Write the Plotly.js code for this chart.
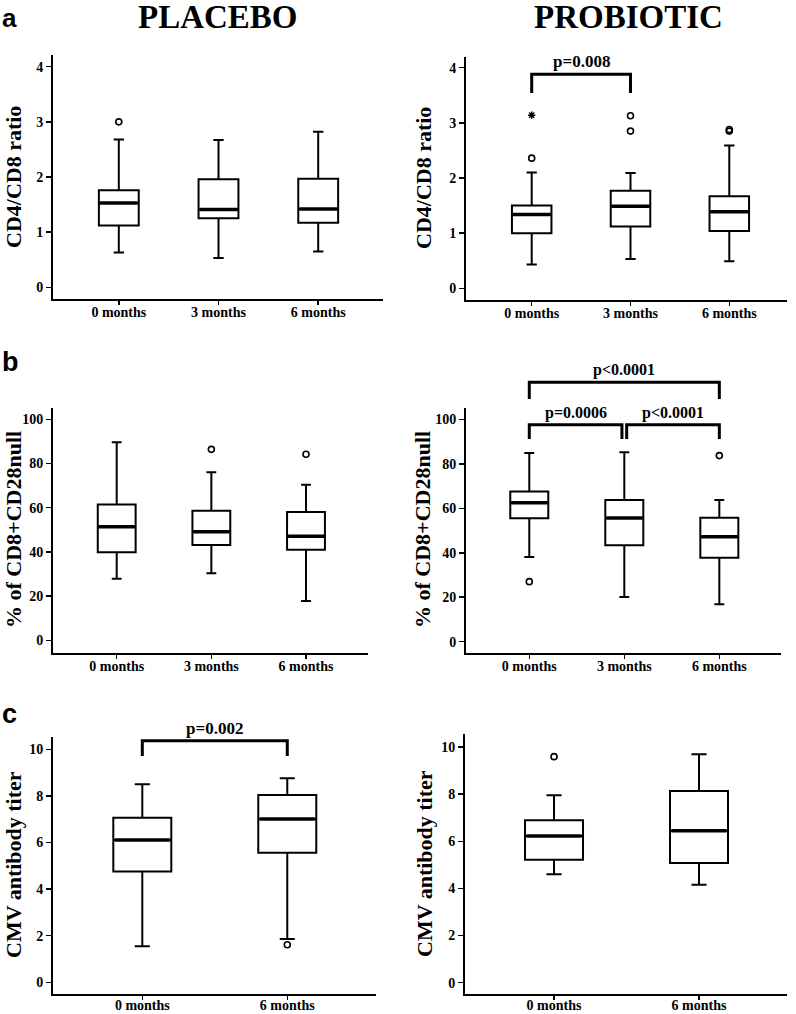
<!DOCTYPE html>
<html>
<head>
<meta charset="utf-8">
<script src="https://cdn.plot.ly/plotly-3.0.1.min.js"></script>
<style>html,body{margin:0;padding:0;background:#fff;}#chart{width:796px;height:1014px;}</style>
</head>
<body>
<div id="chart"></div>
<script>
// ---------- DATA ----------
const cats3 = ['0 months', '3 months', '6 months'];
const cats2 = ['0 months', '6 months'];
const groupTitles = ['PLACEBO', 'PROBIOTIC'];
const panelLetters = ['a', 'b', 'c'];
const yTitles = ['CD4/CD8 ratio', '% of CD8+CD28null', 'CMV antibody titer'];

// Panel a - placebo (CD4/CD8 ratio)
const aPlaLow  = [0.63, 0.53, 0.65];
const aPlaQ1   = [1.12, 1.25, 1.17];
const aPlaMed  = [1.53, 1.41, 1.42];
const aPlaQ3   = [1.76, 1.96, 1.97];
const aPlaHigh = [2.68, 2.67, 2.82];
const aPlaOutX = [0];
const aPlaOutY = [3.00];
// Panel a - probiotic
const aProLow  = [0.43, 0.53, 0.49];
const aProQ1   = [1.00, 1.12, 1.04];
const aProMed  = [1.34, 1.49, 1.39];
const aProQ3   = [1.50, 1.77, 1.67];
const aProHigh = [2.10, 2.09, 2.59];
const aProOutX = [0, 1, 1, 2, 2];
const aProOutY = [2.36, 3.13, 2.85, 2.88, 2.85];
const aProExtX = [0];
const aProExtY = [3.14];

// Panel b - placebo (% of CD8+CD28null)
const bPlaLow  = [27.9, 30.3, 17.8];
const bPlaQ1   = [39.8, 43.1, 41.0];
const bPlaMed  = [51.4, 49.1, 47.1];
const bPlaQ3   = [61.4, 58.6, 58.1];
const bPlaHigh = [89.6, 76.0, 70.4];
const bPlaOutX = [1, 2];
const bPlaOutY = [86.4, 84.2];
// Panel b - probiotic
const bProLow  = [38.1, 20.1, 16.8];
const bProQ1   = [55.5, 43.4, 37.8];
const bProMed  = [62.5, 55.6, 47.2];
const bProQ3   = [67.5, 63.7, 55.8];
const bProHigh = [84.9, 85.2, 63.7];
const bProOutX = [0, 2];
const bProOutY = [27.0, 83.7];

// Panel c - placebo (CMV antibody titer)
const cPlaLow  = [1.55, 1.86];
const cPlaQ1   = [4.76, 5.56];
const cPlaMed  = [6.11, 7.01];
const cPlaQ3   = [7.06, 8.04];
const cPlaHigh = [8.50, 8.76];
const cPlaOutX = [1];
const cPlaOutY = [1.61];
// Panel c - probiotic
const cProLow  = [4.60, 4.16];
const cProQ1   = [5.22, 5.08];
const cProMed  = [6.22, 6.45];
const cProQ3   = [6.89, 8.13];
const cProHigh = [7.95, 9.69];
const cProOutX = [0];
const cProOutY = [9.59];

// Significance brackets: [from, to, top, legEnd, label]
const aProBrackets = [[0, 1, 3.88, 3.54, 'p=0.008']];
const bProBrackets = [[0, 2, 116.7, 109.2, 'p<0.0001'], [0, 0.975, 97.6, 91.2, 'p=0.0006'], [1.025, 2, 97.6, 91.2, 'p<0.0001']];
const cPlaBrackets = [[0, 1, 10.37, 9.71, 'p=0.002']];

// ---------- LAYOUT SETUP ----------
const W = 796, H = 1014;
const SERIF = 'Liberation Serif, Times New Roman, serif';
const SANS = 'Liberation Sans, Arial, sans-serif';

// panel geometry (pixels) and axis ranges
const panels = [
  {id: 1, px: [53, 383], py: [55, 299], xr: [-0.66, 2.65], yr: [-0.212, 4.212], dt: 1, cats: cats3, so: -5,
   low: aPlaLow, q1: aPlaQ1, med: aPlaMed, q3: aPlaQ3, high: aPlaHigh, ox: aPlaOutX, oy: aPlaOutY, br: []},
  {id: 2, px: [466, 787], py: [57, 300], xr: [-0.665, 2.584], yr: [-0.212, 4.194], dt: 1, cats: cats3, so: -5,
   low: aProLow, q1: aProQ1, med: aProMed, q3: aProQ3, high: aProHigh, ox: aProOutX, oy: aProOutY,
   ex: aProExtX, ey: aProExtY, br: aProBrackets, brFont: 17},
  {id: 3, px: [53, 368], py: [408, 653], xr: [-0.673, 2.655], yr: [-5.75, 105.1], dt: 20, cats: cats3, so: -5,
   low: bPlaLow, q1: bPlaQ1, med: bPlaMed, q3: bPlaQ3, high: bPlaHigh, ox: bPlaOutX, oy: bPlaOutY, br: []},
  {id: 4, px: [466, 781], py: [408, 653], xr: [-0.666, 2.649], yr: [-5.08, 105.1], dt: 20, cats: cats3, so: -5,
   low: bProLow, q1: bProQ1, med: bProMed, q3: bProQ3, high: bProHigh, ox: bProOutX, oy: bProOutY,
   br: bProBrackets, brFont: 16},
  {id: 5, px: [53, 376], py: [737, 994], xr: [-0.616, 1.612], yr: [-0.502, 10.528], dt: 2, cats: cats2, so: -7,
   low: cPlaLow, q1: cPlaQ1, med: cPlaMed, q3: cPlaQ3, high: cPlaHigh, ox: cPlaOutX, oy: cPlaOutY,
   br: cPlaBrackets, brFont: 17},
  {id: 6, px: [465, 787], py: [734, 994], xr: [-0.614, 1.607], yr: [-0.48, 10.55], dt: 2, cats: cats2, so: -7,
   low: cProLow, q1: cProQ1, med: cProMed, q3: cProQ3, high: cProHigh, ox: cProOutX, oy: cProOutY, br: []}
];

const BOXW = 0.4;
const traces = [];
const layout = {
  width: W, height: H,
  margin: {l: 0, r: 0, t: 0, b: 0},
  paper_bgcolor: '#fff', plot_bgcolor: '#fff',
  showlegend: false,
  hovermode: false,
  font: {family: SERIF, color: '#000'},
  shapes: [],
  annotations: []
};

panels.forEach(p => {
  const xa = 'x' + p.id, ya = 'y' + p.id;
  const xKey = 'xaxis' + p.id, yKey = 'yaxis' + p.id;
  const pos = p.cats.map((c, i) => i);
  layout[xKey] = {
    domain: [p.px[0] / W, p.px[1] / W],
    range: p.xr, anchor: ya,
    showline: true, linecolor: '#000', linewidth: 2,
    showgrid: false, zeroline: false,
    tickmode: 'array', tickvals: pos, ticktext: p.cats,
    ticks: 'outside', ticklen: 4, tickwidth: 1.5, tickcolor: '#000',
    ticklabelstandoff: p.so,
    tickfont: {family: SERIF, size: 14, color: '#000', weight: 'bold'},
    fixedrange: true
  };
  layout[yKey] = {
    domain: [1 - p.py[1] / H, 1 - p.py[0] / H],
    range: p.yr, anchor: xa,
    showline: true, linecolor: '#000', linewidth: 2,
    showgrid: false, zeroline: false,
    tick0: 0, dtick: p.dt,
    ticks: 'outside', ticklen: 5, tickwidth: 1.5, tickcolor: '#000',
    tickfont: {family: SERIF, size: 14, color: '#000', weight: 'bold'},
    fixedrange: true
  };

  traces.push({
    type: 'box', xaxis: xa, yaxis: ya,
    x: pos, q1: p.q1, median: p.med, q3: p.q3, lowerfence: p.low, upperfence: p.high,
    width: BOXW, whiskerwidth: 0.26, boxpoints: false,
    fillcolor: '#fff', line: {color: '#000', width: 2},
    hoverinfo: 'skip'
  });
  // thicker median line derived from median values
  const mx = [], my = [];
  pos.forEach((x, i) => { mx.push(x - BOXW / 2 + 0.01, x + BOXW / 2 - 0.01, null); my.push(p.med[i], p.med[i], null); });
  traces.push({type: 'scatter', mode: 'lines', xaxis: xa, yaxis: ya, x: mx, y: my,
    line: {color: '#000', width: 3.5}, hoverinfo: 'skip'});
  // outliers
  traces.push({type: 'scatter', mode: 'markers', xaxis: xa, yaxis: ya, x: p.ox, y: p.oy,
    marker: {symbol: 'circle-open', size: 6, color: '#000', line: {width: 1.6, color: '#000'}},
    hoverinfo: 'skip', cliponaxis: false});
  if (p.ex) {
    traces.push({type: 'scatter', mode: 'markers', xaxis: xa, yaxis: ya, x: p.ex, y: p.ey,
      marker: {symbol: 'asterisk-open', size: 6, color: '#000', line: {width: 1.5, color: '#000'}},
      hoverinfo: 'skip', cliponaxis: false});
  }
  // brackets (domain refs so they may extend above plot area)
  const fx = v => (v - p.xr[0]) / (p.xr[1] - p.xr[0]);
  const fy = v => (v - p.yr[0]) / (p.yr[1] - p.yr[0]);
  p.br.forEach(b => {
    const [a0, a1, top, leg, label] = b;
    layout.shapes.push({
      type: 'path', xref: xa + ' domain', yref: ya + ' domain',
      path: `M ${fx(a0)} ${fy(leg)} L ${fx(a0)} ${fy(top)} L ${fx(a1)} ${fy(top)} L ${fx(a1)} ${fy(leg)}`,
      line: {color: '#000', width: 3}
    });
    layout.annotations.push({
      xref: xa + ' domain', yref: ya + ' domain',
      x: fx((a0 + a1) / 2), y: fy(top), xanchor: 'center', yanchor: 'bottom', yshift: 1,
      text: '<b>' + label + '</b>', showarrow: false,
      font: {family: SERIF, size: p.brFont, color: '#000'}
    });
  });
});

// group titles
[[218, groupTitles[0]], [628, groupTitles[1]]].forEach(([cx, t]) => {
  layout.annotations.push({xref: 'paper', yref: 'paper', x: cx / W, y: 1 - 17 / H,
    xanchor: 'center', yanchor: 'middle', text: '<b>' + t + '</b>', showarrow: false,
    font: {family: SERIF, size: 33, color: '#000'}});
});
// panel letters (a anchored at top so it stays inside the page)
layout.annotations.push({xref: 'paper', yref: 'paper', x: 0, y: 1 - 1 / H,
  xanchor: 'left', yanchor: 'top', text: '<b>' + panelLetters[0] + '</b>', showarrow: false,
  font: {family: SANS, size: 26, color: '#000'}});
[[362, panelLetters[1]], [714, panelLetters[2]]].forEach(([cy, t]) => {
  layout.annotations.push({xref: 'paper', yref: 'paper', x: 0, y: 1 - cy / H,
    xanchor: 'left', yanchor: 'middle', text: '<b>' + t + '</b>', showarrow: false,
    font: {family: SANS, size: 27, color: '#000'}});
});
// y-axis titles
const yTitlePos = [[13, 177, 0], [423, 178, 0], [13, 530, 1], [422, 530, 1], [13, 865, 2], [424, 864, 2]];
yTitlePos.forEach(([cx, cy, k]) => {
  layout.annotations.push({xref: 'paper', yref: 'paper', x: cx / W, y: 1 - cy / H,
    xanchor: 'center', yanchor: 'middle', textangle: -90, text: '<b>' + yTitles[k] + '</b>',
    showarrow: false, font: {family: SERIF, size: 22, color: '#000'}});
});

Plotly.newPlot('chart', traces, layout, {staticPlot: true, displayModeBar: false});
</script>
</body>
</html>
